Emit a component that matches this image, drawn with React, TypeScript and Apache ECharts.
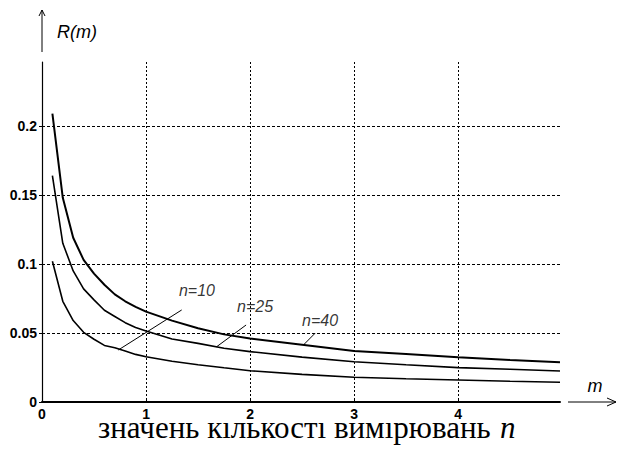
import React, { useEffect, useRef } from "react";
import * as echarts from "echarts";

// m values (x axis)
const mValues = [0.1, 0.2, 0.3, 0.4, 0.5, 0.6, 0.7, 0.8, 0.9, 1.0, 1.25, 1.5, 1.75, 2.0, 2.5, 3.0, 3.5, 4.0, 4.5, 4.98];
// R(m) for each n
const rN10 = [0.102, 0.073, 0.059, 0.0505, 0.0455, 0.041, 0.0393, 0.037, 0.0345, 0.0328, 0.0295, 0.027, 0.0248, 0.0227, 0.02, 0.0179, 0.0168, 0.0159, 0.015, 0.0143];
const rN25 = [0.164, 0.115, 0.095, 0.082, 0.074, 0.0665, 0.062, 0.0575, 0.054, 0.0515, 0.0457, 0.0425, 0.039, 0.0365, 0.0325, 0.0292, 0.027, 0.0249, 0.0237, 0.0225];
const rN40 = [0.209, 0.148, 0.119, 0.103, 0.093, 0.085, 0.078, 0.073, 0.069, 0.0655, 0.059, 0.0535, 0.049, 0.046, 0.0415, 0.037, 0.0347, 0.0324, 0.0305, 0.0288];

const seriesNames = ["n=10", "n=25", "n=40"];
// label anchor points (data coords) and leader lines
const labelPoints = [
  [1.49, 0.0805],
  [2.048, 0.0695],
  [2.673, 0.0592],
];
const leaderLines = [
  [[0.734, 0.0377], [1.343, 0.0667]],
  [[1.68, 0.0401], [1.962, 0.0558]],
  [[2.513, 0.0413], [2.625, 0.0498]],
];

const X_MIN = 0;
const X_MAX = 4.98;
const X_INTERVAL = 1;
const Y_MIN = 0;
const Y_MAX = 0.2464;
const Y_INTERVAL = 0.05;

const yTitle = "R(m)";
const xTitle = "m";
const captionText = "значень кількості вимірювань";
const captionVar = "n";

const sans = "Liberation Sans";
const serif = "Liberation Serif";

export default function App() {
  const ref = useRef<HTMLDivElement>(null);

  useEffect(() => {
    if (!ref.current) return;
    const chart = echarts.init(ref.current, undefined, { renderer: "svg" });

    const curves = [rN10, rN25, rN40];
    const lineSeries = curves.map((vals, i) => ({
      type: "line",
      name: seriesNames[i],
      data: mValues.map((m, j) => [m, vals[j]]),
      symbol: "none",
      smooth: false,
      lineStyle: { color: "#000", width: i === 2 ? 2 : 1.6 },
      z: 3,
      silent: true,
      markLine: {
        silent: true,
        symbol: ["none", "none"],
        label: { show: false },
        lineStyle: { color: "#000", width: 1, type: "solid" },
        emphasis: { disabled: true },
        data: [
          [
            { coord: leaderLines[i][0] },
            { coord: leaderLines[i][1] },
          ],
        ],
      },
    }));

    const labelSeries = {
      type: "scatter",
      name: "labels",
      symbolSize: 0,
      silent: true,
      z: 4,
      data: labelPoints.map((p, i) => ({ value: p, name: seriesNames[i] })),
      label: {
        show: true,
        position: "inside",
        formatter: "{b}",
        color: "#000",
        fontSize: 16,
        fontStyle: "italic",
        fontFamily: sans,
      },
    };

    const option: any = {
      animation: false,
      backgroundColor: "#fff",
      title: [
        {
          text: captionText,
          left: 98,
          top: 412,
          padding: 0,
          z: 6,
          textStyle: { fontFamily: serif, fontSize: 31, fontWeight: "normal", color: "#000" },
        },
        {
          text: captionVar,
          left: 500,
          top: 412,
          padding: 0,
          z: 6,
          textStyle: { fontFamily: serif, fontSize: 31, fontWeight: "normal", fontStyle: "italic", color: "#000" },
        },
      ],
      grid: { left: 42, top: 62, width: 518, height: 340, containLabel: false },
      xAxis: {
        type: "value",
        min: X_MIN,
        max: X_MAX,
        interval: X_INTERVAL,
        z: 8,
        axisLine: { show: true, onZero: false, lineStyle: { color: "#000", width: 2 } },
        axisTick: { show: true, inside: true, length: 3, lineStyle: { color: "#000" } },
        axisLabel: {
          color: "#000",
          fontSize: 14,
          fontWeight: "bold",
          fontFamily: sans,
          margin: 5,
          showMaxLabel: false,
        },
        splitLine: {
          show: true,
          showMinLine: false,
          showMaxLine: false,
          lineStyle: { color: "#000", type: [2, 2], width: 1 },
        },
      },
      yAxis: {
        type: "value",
        min: Y_MIN,
        max: Y_MAX,
        interval: Y_INTERVAL,
        z: 8,
        axisLine: { show: true, onZero: false, lineStyle: { color: "#000", width: 1.2 } },
        axisTick: { show: true, inside: false, length: 3, lineStyle: { color: "#000" } },
        axisLabel: {
          color: "#000",
          fontSize: 14,
          fontWeight: "bold",
          fontFamily: sans,
          margin: 5,
          showMaxLabel: false,
        },
        splitLine: {
          show: true,
          showMinLine: false,
          showMaxLine: false,
          lineStyle: { color: "#000", type: [3, 2], width: 1 },
        },
      },
      graphic: {
        elements: [
          // hides the top of the caption, as in the source image
          {
            type: "rect",
            z: 7,
            silent: true,
            shape: { x: 86, y: 405, width: 444, height: 18 },
            style: { fill: "#fff" },
          },
          // y-axis arrow
          { type: "line", shape: { x1: 42, y1: 52, x2: 42, y2: 10 }, style: { stroke: "#000", lineWidth: 1 }, silent: true },
          { type: "polyline", shape: { points: [[39, 16], [42, 10], [45, 16]] }, style: { stroke: "#000", fill: null, lineWidth: 1 }, silent: true },
          {
            type: "text",
            x: 57,
            y: 31.5,
            silent: true,
            style: { text: yTitle, font: "italic 18px " + sans, fill: "#000", align: "left", verticalAlign: "middle" },
          },
          // x-axis arrow
          { type: "line", shape: { x1: 568, y1: 402, x2: 616, y2: 402 }, style: { stroke: "#000", lineWidth: 1 }, silent: true },
          { type: "polyline", shape: { points: [[607, 398], [616, 402], [607, 406]] }, style: { stroke: "#000", fill: null, lineWidth: 1 }, silent: true },
          {
            type: "text",
            x: 595,
            y: 386,
            silent: true,
            style: { text: xTitle, font: "italic 18px " + sans, fill: "#000", align: "center", verticalAlign: "middle" },
          },
        ],
      },
      series: [...lineSeries, labelSeries],
    };

    chart.setOption(option);
    return () => chart.dispose();
  }, []);

  return (
    <div
      ref={ref}
      style={{ position: "fixed", left: 0, top: 0, width: 617, height: 450, background: "#fff" }}
    />
  );
}
